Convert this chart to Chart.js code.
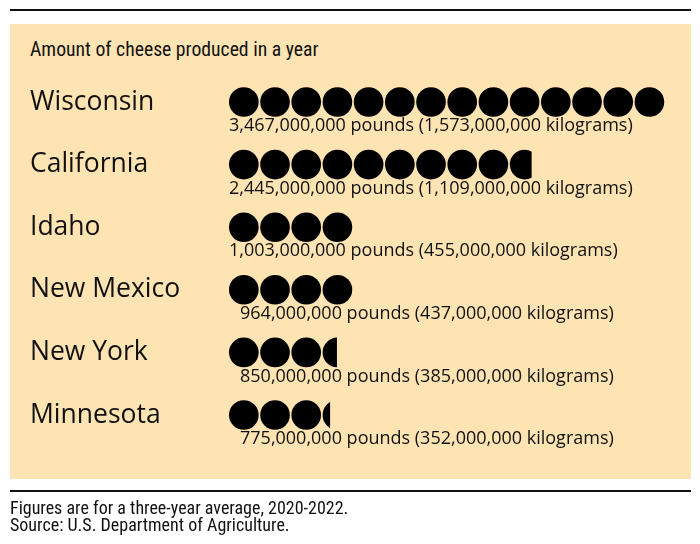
<!DOCTYPE html>
<html>
<head>
<meta charset="utf-8">
<script src="https://cdn.jsdelivr.net/npm/chart.js@4/dist/chart.umd.min.js"></script>
<style>
    html, body { margin: 0; padding: 0; background: #fff; }
    body { width: 700px; height: 544px; position: relative; overflow: hidden; color: #111; }
    .rule { position: absolute; left: 10px; width: 681px; height: 2px; background: #111; }
    #panel { position: absolute; left: 10px; top: 24px; width: 681px; height: 455px; background: #FEE4B2; }
    #title { position: absolute; left: 30px; top: 36px; font: 400 19.7px "Roboto Condensed", "Liberation Sans Narrow", "Noto Sans", sans-serif; line-height: 28px; white-space: nowrap; }
    #notes { position: absolute; left: 10px; top: 500px; font: 400 18px "Roboto Condensed", "Liberation Sans Narrow", "Noto Sans", sans-serif; line-height: 16.5px; }
    #chartBox { position: absolute; left: 0; top: 0; width: 700px; height: 544px; }
</style>
</head>
<body>
<div class="rule" style="top: 9px;"></div>
<div id="panel"></div>
<div id="title">Amount of cheese produced in a year</div>
<div id="chartBox"><canvas id="cheeseChart"></canvas></div>
<div class="rule" style="top: 490px;"></div>
<div id="notes">Figures are for a three-year average, 2020-2022.<br>Source: U.S. Department of Agriculture.</div>

<script>
// Pictograph data (one circle ~ 250 million pounds, as drawn)
const states = ['Wisconsin', 'California', 'Idaho', 'New Mexico', 'New York', 'Minnesota'];
const circles = [14, 9.7, 4, 4, 3.46, 3.24];
const pounds = [3467000000, 2445000000, 1003000000, 964000000, 850000000, 775000000];
const kilograms = [1573000000, 1109000000, 455000000, 437000000, 385000000, 352000000];

const fmt = n => n.toLocaleString('en-US');

// Draw each bar as a row of circles, then the pounds/kilograms line below it
const circleRows = {
    id: 'circleRows',
    afterDatasetsDraw(chart) {
        const ctx = chart.ctx;
        const xs = chart.scales.x;
        const meta = chart.getDatasetMeta(0);
        const unit = xs.getPixelForValue(1) - xs.getPixelForValue(0);
        const r = unit * 0.475;
        meta.data.forEach((bar, i) => {
            const v = circles[i];
            const x0 = xs.getPixelForValue(0);
            ctx.save();
            ctx.beginPath();
            ctx.rect(x0 - 2, bar.y - r - 2, xs.getPixelForValue(v) - x0 + 2, 2 * r + 4);
            ctx.clip();
            ctx.fillStyle = '#000';
            for (let k = 0; k < Math.ceil(v); k++) {
                ctx.beginPath();
                ctx.arc(xs.getPixelForValue(k) + r, bar.y, r, 0, Math.PI * 2);
                ctx.fill();
            }
            ctx.restore();

            ctx.save();
            ctx.fillStyle = '#111';
            ctx.font = '18px "Open Sans", "Noto Sans", sans-serif';
            ctx.textBaseline = 'middle';
            ctx.textAlign = 'left';
            const indent = pounds[i] < 1e9 ? 11 : 0;
            ctx.fillText(fmt(pounds[i]) + ' pounds (' + fmt(kilograms[i]) + ' kilograms)', x0 + indent, bar.y + 24);
            ctx.restore();
        });
    }
};

new Chart(document.getElementById('cheeseChart'), {
    type: 'bar',
    data: {
        labels: states,
        datasets: [{
            data: circles,
            backgroundColor: 'rgba(0,0,0,0)',
            borderWidth: 0
        }]
    },
    options: {
        indexAxis: 'y',
        responsive: true, maintainAspectRatio: false,
        animation: false,
        layout: { padding: { left: 30, right: 18.6, top: 70.7, bottom: 97.7 } },
        plugins: { legend: { display: false }, tooltip: { enabled: false } },
        scales: {
            x: { min: 0, max: 14.5, display: false },
            y: {
                afterFit: scale => { scale.width = 199; },
                grid: { display: false },
                border: { display: false },
                ticks: {
                    crossAlign: 'far',
                    color: '#111',
                    padding: 0,
                    font: { family: '"Open Sans", "Noto Sans", sans-serif', size: 26.5 }
                }
            }
        }
    },
    plugins: [circleRows]
});
</script>
</body>
</html>
